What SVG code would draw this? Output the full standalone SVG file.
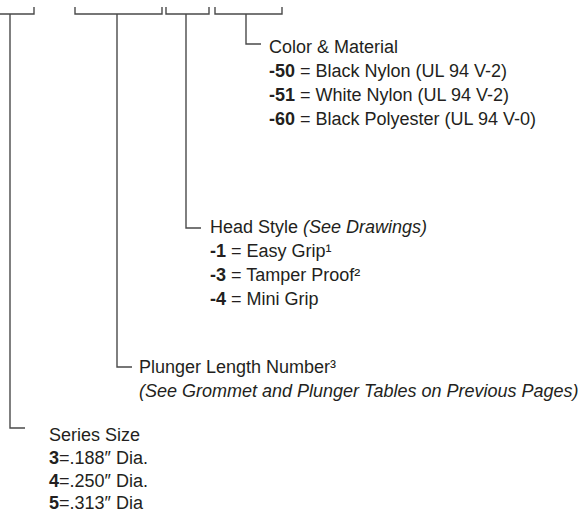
<svg xmlns="http://www.w3.org/2000/svg" width="587" height="512" viewBox="0 0 587 512">
<style>
.ln{fill:none;stroke:#4a4a4a;stroke-width:1.4}
.t{font-family:"Liberation Sans",Arial,sans-serif;font-size:18px;fill:#231f20}
.b{font-weight:bold}
.i{font-style:italic}
</style>
<rect width="587" height="512" fill="#fff"/>
<g id="connectors">
<path class="ln" d="M0 14H34V7"/>
<path class="ln" d="M75 7V14H162V7"/>
<path class="ln" d="M166 7V14H209V7"/>
<path class="ln" d="M215 7V14H282V7"/>
<path class="ln" d="M10 14V428H25"/>
<path class="ln" d="M117 14V367H132"/>
<path class="ln" d="M186 14V228H201"/>
<path class="ln" d="M246 14V44H261"/>
</g>
<g id="color-material">
<text class="t" x="269" y="53">Color &amp; Material</text>
<text class="t" x="269" y="77"><tspan class="b">-50</tspan> = Black Nylon (UL 94 V-2)</text>
<text class="t" x="269" y="101"><tspan class="b">-51</tspan> = White Nylon (UL 94 V-2)</text>
<text class="t" x="269" y="125"><tspan class="b">-60</tspan> = Black Polyester (UL 94 V-0)</text>
</g>
<g id="head-style">
<text class="t" x="210" y="233">Head Style <tspan class="i">(See Drawings)</tspan></text>
<text class="t" x="210" y="257"><tspan class="b">-1</tspan> = Easy Grip¹</text>
<text class="t" x="210" y="281"><tspan class="b">-3</tspan> = Tamper Proof²</text>
<text class="t" x="210" y="305"><tspan class="b">-4</tspan> = Mini Grip</text>
</g>
<g id="plunger-length">
<text class="t" x="139" y="373">Plunger Length Number³</text>
<text class="t i" x="139" y="397">(See Grommet and Plunger Tables on Previous Pages)</text>
</g>
<g id="series-size">
<text class="t" x="49" y="441">Series Size</text>
<text class="t" x="49" y="464"><tspan class="b">3</tspan>=.188″ Dia.</text>
<text class="t" x="49" y="487"><tspan class="b">4</tspan>=.250″ Dia.</text>
<text class="t" x="49" y="509"><tspan class="b">5</tspan>=.313″ Dia</text>
</g>
</svg>
